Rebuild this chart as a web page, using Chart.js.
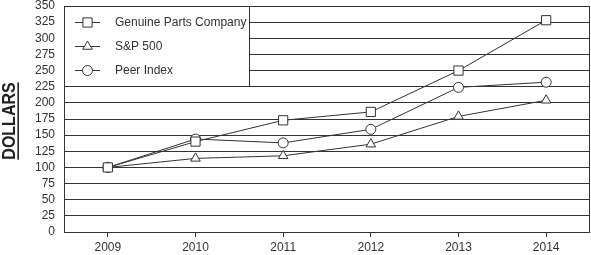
<!DOCTYPE html>
<html>
<head>
  <script src="https://cdn.jsdelivr.net/npm/chart.js"></script>
  <style>
    body { margin: 0; background: #fff; }
    #wrap { width: 591px; height: 255px; }
  </style>
</head>
<body>
  <div id="wrap"><canvas id="perfChart" width="591" height="255"></canvas></div>
  <script>
    const years = ['2009', '2010', '2011', '2012', '2013', '2014'];
    const gpcValues = [100, 140, 173, 186, 250, 328];
    const spValues = [100, 114, 118, 136, 179, 204];
    const peerValues = [100, 144, 138, 159, 224, 232];
    const seriesNames = ['Genuine Parts Company', 'S&P 500', 'Peer Index'];
    const yTicks = [0, 25, 50, 75, 100, 125, 150, 175, 200, 225, 250, 275, 300, 325, 350];

    const ink = '#333333';
    const font = 'Liberation Sans, Arial, sans-serif';

    // frame, legend box and y title drawn by hand
    const extras = {
      id: 'extras',
      beforeDatasetsDraw(chart) {
        const ctx = chart.ctx, a = chart.chartArea;
        ctx.save();
        ctx.strokeStyle = ink;
        ctx.lineWidth = 1;
        ctx.strokeRect(Math.round(a.left) + 0.5, Math.round(a.top) + 0.5,
          Math.round(a.right - a.left) - 1, Math.round(a.bottom - a.top));
        // legend box covers gridlines
        const bx = Math.round(a.left) + 0.5, by = Math.round(a.top) + 0.5;
        ctx.fillStyle = '#fff';
        ctx.fillRect(bx, by, 185, 80);
        ctx.strokeRect(bx, by, 185, 80);
        ctx.restore();
      },
      afterDatasetsDraw(chart) {
        const ctx = chart.ctx, a = chart.chartArea;
        ctx.save();
        chart.data.datasets.forEach((ds, i) => {
          const y = Math.round(a.top) + 16 + i * 24;
          const x0 = Math.round(a.left) + 11;
          ctx.strokeStyle = ink;
          ctx.lineWidth = 1;
          ctx.beginPath();
          ctx.moveTo(x0, y + 0.5);
          ctx.lineTo(x0 + 25, y + 0.5);
          ctx.stroke();
          ctx.fillStyle = '#fff';
          Chart.helpers.drawPoint(ctx, {
            pointStyle: ds.pointStyle, radius: ds.pointRadius, borderWidth: 1
          }, x0 + 12.5, y + 0.5);
          ctx.fillStyle = ink;
          ctx.font = '12px ' + font;
          ctx.textBaseline = 'middle';
          ctx.textAlign = 'left';
          ctx.fillText(ds.label, x0 + 40, y + 1);
        });
        // y title, underlined
        ctx.translate(15, 121);
        ctx.rotate(-Math.PI / 2);
        ctx.scale(1, 1.2);
        ctx.font = 'bold 16px ' + font;
        ctx.fillStyle = '#222';
        ctx.textAlign = 'center';
        ctx.textBaseline = 'alphabetic';
        ctx.fillText('DOLLARS', 0, 0);
        const w = ctx.measureText('DOLLARS').width;
        ctx.fillRect(-w / 2, 2, w, 1.3);
        ctx.restore();
      }
    };

    function makeSet(label, data, style, r) {
      return {
        label: label,
        data: data,
        borderColor: ink,
        borderWidth: 1,
        backgroundColor: '#fff',
        pointStyle: style,
        pointRadius: r,
        pointBorderWidth: 1,
        pointBackgroundColor: '#fff',
        pointBorderColor: ink,
        tension: 0
      };
    }

    new Chart(document.getElementById('perfChart'), {
      type: 'line',
      data: {
        labels: years,
        datasets: [
          makeSet(seriesNames[0], gpcValues, 'rect', 6.5),
          makeSet(seriesNames[1], spValues, 'triangle', 5.5),
          makeSet(seriesNames[2], peerValues, 'circle', 5)
        ]
      },
      options: {
        responsive: false,
        animation: false,
        layout: { autoPadding: false, padding: { top: 6, right: 1, bottom: 0, left: 0 } },
        plugins: { legend: { display: false }, tooltip: { enabled: false } },
        scales: {
          x: {
            offset: true,
            grid: { offset: false, drawOnChartArea: false, drawTicks: true, tickLength: 5, color: ink },
            border: { display: false },
            ticks: { color: ink, font: { family: font, size: 12 }, padding: 3, maxRotation: 0 },
            afterFit(s) { s.height = 23; s.paddingLeft = 0; s.paddingRight = 0; }
          },
          y: {
            min: 0,
            max: 350,
            afterBuildTicks(s) { s.ticks = yTicks.map(v => ({ value: v })); },
            grid: { color: ink, drawTicks: false },
            border: { display: false },
            ticks: { color: ink, font: { family: font, size: 12 }, padding: 9, autoSkip: false },
            afterFit(s) { s.width = 64; s.paddingTop = 0; s.paddingBottom = 0; }
          }
        }
      },
      plugins: [extras]
    });
  </script>
</body>
</html>
